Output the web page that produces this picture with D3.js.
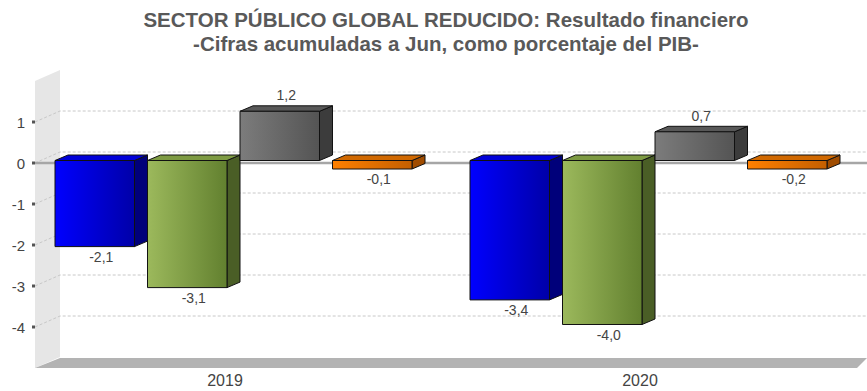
<!DOCTYPE html>
<html><head><meta charset="utf-8">
<script src="https://cdn.jsdelivr.net/npm/d3@7"></script>
<style>body{margin:0;background:#fff}svg{display:block}</style>
</head><body>
<script>
const categories = ["2019", "2020"];
const seriesNames = ["s1", "s2", "s3", "s4"];
const values = [
  [-2.1, -3.1, 1.2, -0.1],
  [-3.4, -4.0, 0.7, -0.2]
];
const valueLabels = [
  ["-2,1", "-3,1", "1,2", "-0,1"],
  ["-3,4", "-4,0", "0,7", "-0,2"]
];
const yTicks = [1, 0, -1, -2, -3, -4];
const titleLines = ["SECTOR PÚBLICO GLOBAL REDUCIDO: Resultado financiero", "-Cifras acumuladas a Jun, como porcentaje del PIB-"];

const colors = [
  {l: "#0000ff", r: "#0000a8", side: "#00007a", top: "#0000d8"},
  {l: "#9cb95c", r: "#62802f", side: "#4a5e26", top: "#7d9a42"},
  {l: "#7c7c7c", r: "#545454", side: "#3c3c3c", top: "#585858"},
  {l: "#ff8000", r: "#c45f00", side: "#a04c00", top: "#d06800"}
];

const W = 867, H = 391;
const svg = d3.select("body").append("svg").attr("width", W).attr("height", H);
const defs = svg.append("defs");
colors.forEach((c, i) => {
  const g = defs.append("linearGradient").attr("id", "g" + i).attr("x1", "0").attr("x2", "1").attr("y1", "0").attr("y2", "0");
  g.append("stop").attr("offset", "0").attr("stop-color", c.l);
  g.append("stop").attr("offset", "1").attr("stop-color", c.r);
});

const DX = 25, DY = -11;        // wall depth
const BDX = 13, BDY = -5.5;     // bar depth
const left = 35, right = 857;
const y = d3.scaleLinear().domain([-5, 2]).range([368, 81]);
const x0 = d3.scaleBand().domain(categories).range([left, left + 830]);
const x1 = d3.scaleBand().domain(seriesNames).range([20, 20 + 370]);
const FONT = "Liberation Sans, Arial, sans-serif";

// title
svg.selectAll("text.title").data(titleLines).join("text")
  .attr("x", 446).attr("y", (d, i) => 27 + i * 24)
  .attr("text-anchor", "middle")
  .attr("font-family", FONT)
  .attr("font-weight", "bold").attr("font-size", 20.5).attr("fill", "#595959")
  .text(d => d);

// wall
svg.append("polygon")
  .attr("points", [[left, y(2)], [left + DX, y(2) + DY], [left + DX, y(-5) + DY], [left, y(-5)]].join(" "))
  .attr("fill", "#e6e6e6");
// floor
svg.append("polygon")
  .attr("points", [[left, y(-5)], [right, y(-5)], [right + 10, y(-5) + DY + 1], [left + DX, y(-5) + DY + 1]].join(" "))
  .attr("fill", "#b3b3b3");

// gridlines
const grid = svg.append("g").attr("stroke", "#c8c8c8").attr("stroke-width", 1).attr("stroke-dasharray", "3,2").attr("fill", "none");
yTicks.forEach(v => {
  grid.append("path").attr("d", `M${left},${y(v)}L${left + DX},${y(v) + DY}L${W},${y(v) + DY}`);
});

// ticks and labels
yTicks.forEach(v => {
  svg.append("rect").attr("x", 32).attr("y", y(v) - 1.5).attr("width", 3).attr("height", 3).attr("fill", "#555");
  svg.append("text").attr("x", 25).attr("y", y(v) + 5.5).attr("text-anchor", "end")
    .attr("font-family", FONT).attr("font-size", 15).attr("fill", "#444")
    .text(d3.format("d")(v).replace("−", "-"));
});

// zero line
svg.append("line").attr("x1", left).attr("x2", W).attr("y1", y(0)).attr("y2", y(0))
  .attr("stroke", "#a6a6a6").attr("stroke-width", 2.5);

// bars
const bw = x1.bandwidth() - BDX;
categories.forEach((cat, ci) => {
  seriesNames.forEach((s, si) => {
    const v = values[ci][si];
    const bx = x0(cat) + x1(s);
    const y0 = y(0) - 2.5;
    let h = Math.abs(y(v) - y(0));
    h = Math.max(h, 8.5);
    const top = v >= 0 ? y0 - h : y0;
    const bot = top + h;
    const c = colors[si];
    const g = svg.append("g").attr("stroke", "#111").attr("stroke-width", 1).attr("stroke-linejoin", "round");
    g.append("polygon").attr("points", [[bx + bw, top], [bx + bw + BDX, top + BDY], [bx + bw + BDX, bot + BDY], [bx + bw, bot]].join(" "))
      .attr("fill", c.side);
    g.append("polygon").attr("points", [[bx, top], [bx + BDX, top + BDY], [bx + bw + BDX, top + BDY], [bx + bw, top]].join(" "))
      .attr("fill", c.top);
    g.append("rect").attr("x", bx).attr("y", top).attr("width", bw).attr("height", h).attr("fill", `url(#g${si})`);
    const lx = bx + (bw + BDX) / 2;
    const ly = v >= 0 ? top - 11 : bot + 15;
    svg.append("text").attr("x", lx).attr("y", ly).attr("text-anchor", "middle")
      .attr("font-family", FONT).attr("font-size", 14).attr("fill", "#444")
      .text(valueLabels[ci][si]);
  });
});

// category labels
svg.selectAll("text.cat").data(categories).join("text")
  .attr("x", d => x0(d) + 190).attr("y", 386)
  .attr("text-anchor", "middle")
  .attr("font-family", FONT).attr("font-size", 16).attr("fill", "#444")
  .text(d => d);
</script>
</body></html>
